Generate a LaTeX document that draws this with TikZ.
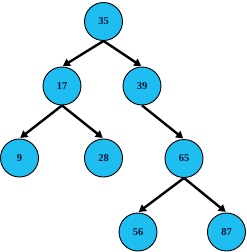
\documentclass[tikz,border=0pt]{standalone}
\usepackage{fontspec}
\setmainfont{Liberation Serif}
\usetikzlibrary{arrows.meta}
\definecolor{nodefill}{RGB}{30,190,240}
\definecolor{nodetext}{RGB}{10,20,60}
\begin{document}
\begin{tikzpicture}[x=1bp,y=-1bp,
  treenode/.style={circle,draw=black,line width=0.9bp,fill=nodefill,minimum size=38bp,inner sep=0pt,font=\fontsize{10.5bp}{12bp}\selectfont\bfseries,text=nodetext},
  edge/.style={line width=2.4bp,-{Triangle[length=7bp,width=8bp]},shorten >=1bp}]
\useasboundingbox (0,0) rectangle (247,252);
\node[treenode] (n35) at (103.5,21.5) {35};
\node[treenode] (n17) at (62,86) {17};
\node[treenode] (n39) at (142,86) {39};
\node[treenode] (n9) at (19.5,158) {9};
\node[treenode] (n28) at (103.5,158) {28};
\node[treenode] (n65) at (184,158.5) {65};
\node[treenode] (n56) at (138,232) {56};
\node[treenode] (n87) at (226.5,232) {87};
\draw[edge] (n35.south) -- (n17.north);
\draw[edge] (n35.south) -- (n39.north);
\draw[edge] (n17.south) -- (n9.north);
\draw[edge] (n17.south) -- (n28.north);
\draw[edge] (n39.south) -- (n65.north);
\draw[edge] (n65.south) -- (n56.north);
\draw[edge] (n65.south) -- (n87.north);
\end{tikzpicture}
\end{document}
